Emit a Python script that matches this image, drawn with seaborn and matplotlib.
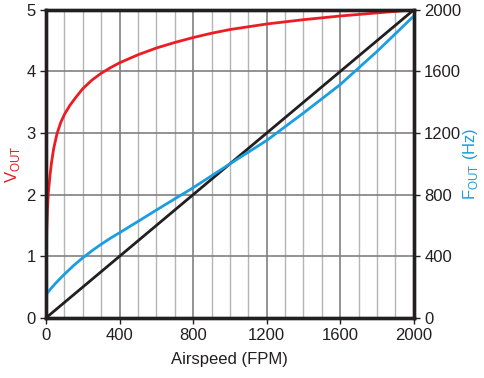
import seaborn as sns
import matplotlib.pyplot as plt
from matplotlib.ticker import MultipleLocator

# 讀圖估計的資料
airspeed_v = [0, 0.5, 1, 2, 4, 8, 13, 22, 30, 42, 60, 80, 100, 130, 160, 200, 250,
              300, 350, 400, 500, 600, 700, 800, 900, 1000, 1200, 1400, 1600,
              1800, 2000]
vout = [0, 0.35, 0.6, 1.0, 1.4, 1.75, 2.03, 2.32, 2.52, 2.75, 2.99, 3.17, 3.3,
        3.45, 3.57, 3.72, 3.86, 3.97, 4.06, 4.14, 4.27, 4.38, 4.47, 4.55, 4.62,
        4.68, 4.77, 4.84, 4.9, 4.95, 5.0]

airspeed_f = [0, 10, 25, 50, 75, 100, 150, 200, 250, 300, 350, 400, 500, 600,
              800, 1000, 1200, 1400, 1600, 1800, 2000]
fout = [150, 166, 188, 222, 253, 283, 340, 390, 436, 478, 517, 553, 626, 700,
        845, 1000, 1152, 1330, 1515, 1730, 1960]

ref_airspeed = [0, 2000]
ref_vout = [0, 5]

red = "#ed1c24"
blue = "#1b9ee0"
dark = "#231f20"

sns.set_style("white")
plt.rcParams["font.family"] = ["Liberation Sans", "DejaVu Sans"]
plt.rcParams["font.size"] = 12
plt.rcParams["mathtext.fontset"] = "custom"
plt.rcParams["mathtext.rm"] = "Liberation Sans"

fig = plt.figure(figsize=(4.84, 3.78), dpi=100)
ax = fig.add_axes([0.095, 0.159, 0.76, 0.815])

# 格線
ax.xaxis.set_major_locator(MultipleLocator(400))
ax.xaxis.set_minor_locator(MultipleLocator(100))
ax.yaxis.set_major_locator(MultipleLocator(1))
ax.grid(which="minor", axis="x", color="#b5b5b5", lw=1)
ax.grid(which="major", color="#808080", lw=1.2)
ax.set_axisbelow(True)

sns.lineplot(x=ref_airspeed, y=ref_vout, ax=ax, color=dark, lw=2)
sns.lineplot(x=airspeed_v, y=vout, ax=ax, color=red, lw=2)
ax.set_xlim(0, 2000)
ax.set_ylim(0, 5)

ax2 = ax.twinx()
sns.lineplot(x=airspeed_f, y=fout, ax=ax2, color=blue, lw=2)
ax2.set_ylim(0, 2000)
ax2.yaxis.set_major_locator(MultipleLocator(400))

for a in (ax, ax2):
    for s in a.spines.values():
        s.set_linewidth(2.4)
        s.set_color(dark)
    a.tick_params(which="major", length=4, width=1, color=dark, labelcolor=dark, labelsize=12)
    a.tick_params(which="minor", length=0)

ax.tick_params(bottom=True, left=True)
ax2.tick_params(right=True)

ax.set_xlabel("Airspeed (FPM)", color=dark, labelpad=6)
ax.set_ylabel(r"V$_\mathregular{OUT}$", color=red, labelpad=3)
ax2.set_ylabel(r"F$_\mathregular{OUT}$ (Hz)", color=blue, labelpad=0)

plt.savefig("out.png", dpi=100)
